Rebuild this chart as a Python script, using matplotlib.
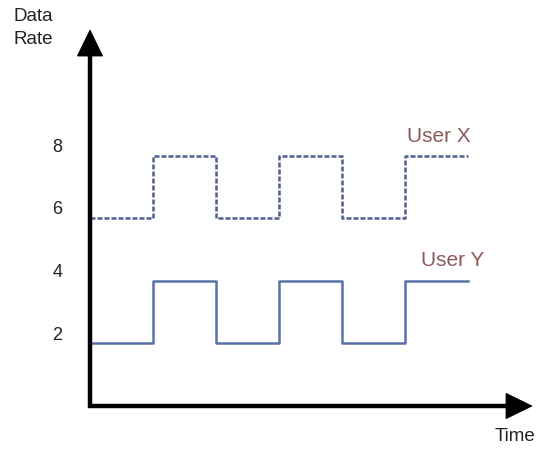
import matplotlib
matplotlib.use("Agg")  # Non-interactive backend
import matplotlib.pyplot as plt

plt.rcParams.update({
    "font.family": ["Liberation Sans", "DejaVu Sans"],
})

# === Data ===
time_steps = [0, 1, 2, 3, 4, 5, 6]
user_x = [6, 8, 6, 8, 6, 8, 8]
user_y = [2, 4, 2, 4, 2, 4, 4]
tick_values = [2, 4, 6, 8]
series_labels = ["User X", "User Y"]

# === Figure (axes fill the canvas, axes drawn by hand) ===
fig = plt.figure(figsize=(5.4, 4.5), dpi=100)
ax = fig.add_axes([0, 0, 1, 1])
ax.set_xlim(-90 / 63, 450 / 63)
ax.set_ylim(-44 / 31.3, 406 / 31.3)
ax.axis("off")

# axes lines with arrow heads
ax.plot([0, 0, 6.8], [11.7, 0, 0], color="black", lw=3.2,
        solid_joinstyle="miter", solid_capstyle="butt", zorder=3)
arrow = dict(arrowstyle="-|>,head_length=0.45,head_width=0.22", color="black",
             lw=1, mutation_scale=40, shrinkA=0, shrinkB=0)
ax.annotate("", xy=(7.03, 0), xytext=(6.5, 0), arrowprops=arrow, zorder=3)
ax.annotate("", xy=(0, 12.04), xytext=(0, 11.0), arrowprops=arrow, zorder=3)

# step series
ax.plot(time_steps, user_x, drawstyle="steps-post", color="#4d5f8a", lw=1.8,
        linestyle=(0, (2.0, 0.8)), zorder=2)
ax.plot(time_steps, user_y, drawstyle="steps-post", color="#5a72a8", lw=1.8, zorder=2)

# tick labels
for v in tick_values:
    ax.annotate(str(v), xy=(-0.52, v), xytext=(0, 6), textcoords="offset points",
                ha="center", va="center", fontsize=13, color="#222222")

# series labels
ax.text(5.53, user_x[-1] + 0.62, series_labels[0], ha="center", va="center",
        fontsize=15, color="#8a5b58")
ax.text(5.76, user_y[-1] + 0.66, series_labels[1], ha="center", va="center",
        fontsize=15, color="#8a5b58")

# axis titles
ax.text(-1.22, 12.08, "Data\nRate", ha="left", va="center", fontsize=13.5,
        linespacing=1.45, color="#222222")
ax.text(6.75, -0.99, "Time", ha="center", va="center", fontsize=13.5, color="#222222")

plt.savefig("out.png", dpi=100)
plt.close()
